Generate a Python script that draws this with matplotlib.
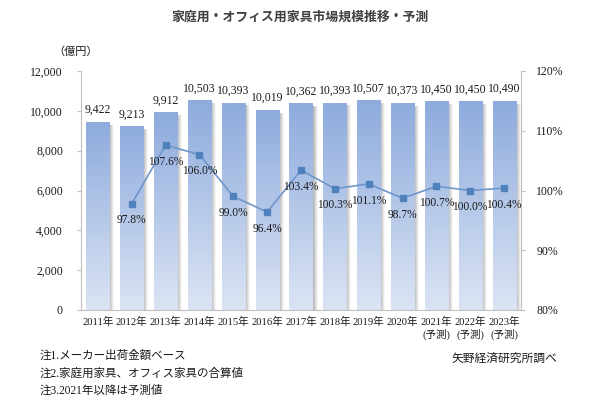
import matplotlib.pyplot as plt
import numpy as np
from matplotlib.colors import LinearSegmentedColormap
from matplotlib.ticker import FuncFormatter

years = ['2011年', '2012年', '2013年', '2014年', '2015年', '2016年', '2017年',
         '2018年', '2019年', '2020年', '2021年\n(予測)', '2022年\n(予測)', '2023年\n(予測)']
market = [9422, 9213, 9912, 10503, 10393, 10019, 10362, 10393, 10507, 10373, 10450, 10450, 10490]
growth = [None, 97.8, 107.6, 106.0, 99.0, 96.4, 103.4, 100.3, 101.1, 98.7, 100.7, 100.0, 100.4]

notes = ['注1.メーカー出荷金額ベース', '注2.家庭用家具、オフィス家具の合算値', '注3.2021年以降は予測値']

serif = ['Liberation Serif', 'Noto Sans CJK JP']
sans = ['Noto Sans CJK JP', 'DejaVu Sans']
plt.rcParams['font.family'] = serif

W, H = 600, 399
fig = plt.figure(figsize=(6, 3.99), dpi=100)
ax = fig.add_axes([81 / W, 1 - 310 / H, 440 / W, 239 / H])
ax2 = ax.twinx()

x = np.arange(len(years))
bw = 0.68
bars = ax.bar(x, market, width=bw, color='none', edgecolor='none', zorder=2)

# 縦グラデーション
bar_cmap = LinearSegmentedColormap.from_list('bar', ['#dbe4f4', '#8eabdd'])
shadow_cmap = LinearSegmentedColormap.from_list('sh', ['#b0b0b0', '#ffffff'])
grad = np.linspace(0, 1, 256).reshape(-1, 1)
hgrad = np.linspace(0, 1, 64).reshape(1, -1)
for b in bars:
    x0 = b.get_x()
    x1 = x0 + b.get_width()
    h = b.get_height()
    ax.imshow(grad, cmap=bar_cmap, origin='lower', aspect='auto',
              extent=[x0, x1, 0, h], zorder=2)
    # 右側の影
    ax.imshow(hgrad, cmap=shadow_cmap, origin='lower', aspect='auto',
              extent=[x1, x1 + 0.12, 0, h - 150], zorder=1)
    ax.annotate(f'{int(h):,}', (b.get_x() + b.get_width() / 2, h),
                xytext=(0, 4.5), textcoords='offset points', ha='center', va='bottom',
                fontsize=8.5, color='#1a1a1a')

ax.set_xlim(-0.5, len(years) - 0.5)
ax.set_ylim(0, 12000)
ax.set_yticks(np.arange(0, 12001, 2000))
ax.yaxis.set_major_formatter(FuncFormatter(lambda v, p: f'{int(v):,}'))
ax.set_xticks(x)
ax.set_xticklabels(years, fontsize=7.6, linespacing=1.2)
ax.tick_params(axis='x', length=0, pad=5, colors='#1a1a1a')
ax.tick_params(axis='y', length=3, color='#bfbfbf', pad=10, labelsize=8.5, labelcolor='#1a1a1a')

for s in ['top', 'right']:
    ax.spines[s].set_visible(False)
ax.spines['left'].set_color('#bfbfbf')
ax.spines['bottom'].set_color('#bfbfbf')
for s in ['top', 'left', 'bottom']:
    ax2.spines[s].set_visible(False)
ax2.spines['right'].set_color('#bfbfbf')

# 前年比
gx = [i for i, g in enumerate(growth) if g is not None]
gy = [g for g in growth if g is not None]
ax2.plot(gx, gy, color='#6f96cb', lw=1.2, marker='s', markersize=5,
         markerfacecolor='#4f81bd', markeredgecolor='#4f81bd', zorder=3)
for i, g in zip(gx, gy):
    ax2.annotate(f'{g:.1f}%', (i, g), xytext=(0, -12), textcoords='offset points',
                 ha='center', va='center', fontsize=8.3, color='#1a1a1a')
ax2.set_ylim(80, 120)
ax2.set_yticks([80, 90, 100, 110, 120])
ax2.yaxis.set_major_formatter(FuncFormatter(lambda v, p: f'{int(v)}%'))
ax2.tick_params(axis='y', length=3, color='#bfbfbf', pad=8, labelsize=8.5, labelcolor='#1a1a1a')

fig.text(300 / W, 1 - 17 / H, '家庭用・オフィス用家具市場規模推移・予測', family=sans,
         fontsize=9.3, fontweight='bold', color='#404040', ha='center', va='center')
fig.text(76 / W, 1 - 52 / H, '（億円）', family=sans, fontsize=8, color='#1a1a1a',
         ha='center', va='center')
for k, n in enumerate(notes):
    fig.text(40 / W, 1 - (356 + 17.5 * k) / H, n, fontsize=8.3, color='#1a1a1a',
             ha='left', va='center')
fig.text(557 / W, 1 - 358 / H, '矢野経済研究所調べ', family=sans, fontsize=8.5,
         color='#1a1a1a', ha='right', va='center')

fig.savefig('out.png', dpi=100)
